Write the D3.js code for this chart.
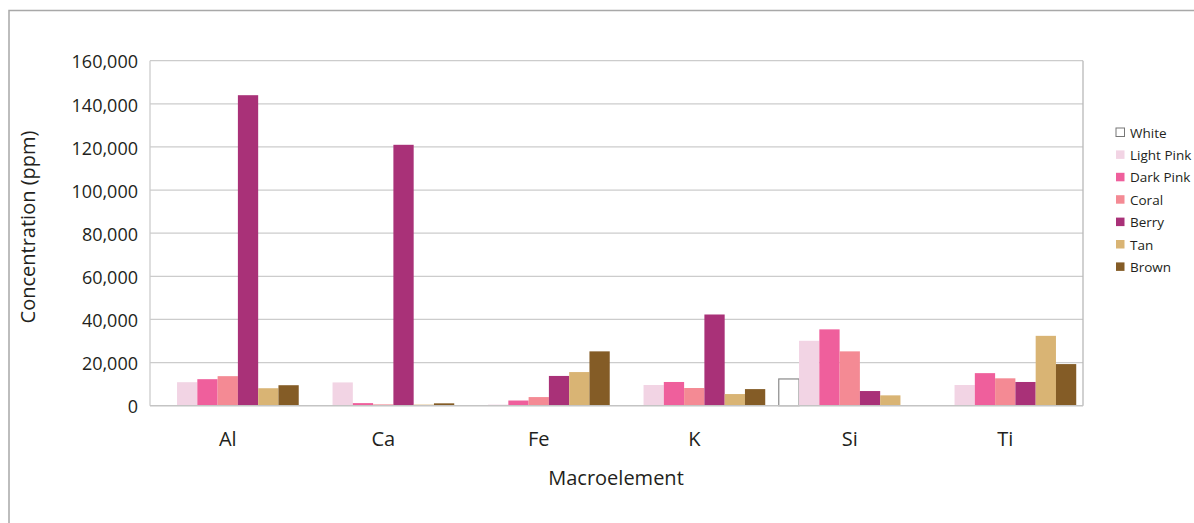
<!DOCTYPE html>
<html>
<head>
<meta charset="utf-8">
<script src="https://cdn.jsdelivr.net/npm/d3@7"></script>
<style>
  html, body { margin: 0; padding: 0; background: #fff; }
  svg { display: block; font-family: "Open Sans", "Noto Sans", sans-serif; }
</style>
</head>
<body>
<svg id="chart" width="1194" height="523"></svg>
<script>
const categories = ["Al", "Ca", "Fe", "K", "Si", "Ti"];
const seriesNames = ["White", "Light Pink", "Dark Pink", "Coral", "Berry", "Tan", "Brown"];
const seriesColors = ["#ffffff", "#f2d4e4", "#ef5f9c", "#f48a94", "#a93178", "#d9b474", "#845c26"];
const white     = [0, 0, 0, 0, 12400, 0];
const lightPink = [10900, 10800, 500, 9600, 30100, 9600];
const darkPink  = [12300, 1200, 2400, 11000, 35400, 15100];
const coral     = [13700, 600, 4000, 8200, 25200, 12700];
const berry     = [144000, 121000, 13800, 42300, 6800, 11000];
const tan       = [8100, 500, 15600, 5400, 4800, 32400];
const brown     = [9500, 1100, 25200, 7700, 0, 19300];
const seriesValues = [white, lightPink, darkPink, coral, berry, tan, brown];
const yTicks = [0, 20000, 40000, 60000, 80000, 100000, 120000, 140000, 160000];

const svg = d3.select("#chart");
const plot = { left: 150, right: 1083, top: 60.7, bottom: 405.7 };

// outer frame (left and top)
svg.append("path")
  .attr("d", `M9,523 L9,10.5 L1194,10.5`)
  .attr("fill", "none").attr("stroke", "#a8a8a8").attr("stroke-width", 1.5);

const x0 = d3.scaleBand().domain(categories).range([plot.left, plot.right])
  .paddingInner(0.087).paddingOuter(0.0435);
const x1 = d3.scaleBand().domain(seriesNames).range([0, x0.bandwidth()]).padding(0);
const y = d3.scaleLinear().domain([0, 160000]).range([plot.bottom, plot.top]);

// gridlines
svg.append("g").selectAll("line").data(yTicks.filter(d => d > 0)).join("line")
  .attr("x1", plot.left).attr("x2", plot.right)
  .attr("y1", d => y(d)).attr("y2", d => y(d))
  .attr("stroke", "#cccccc").attr("stroke-width", 1.3);

// plot borders left/right
svg.append("line").attr("x1", plot.left).attr("x2", plot.left)
  .attr("y1", plot.top).attr("y2", plot.bottom).attr("stroke", "#cccccc").attr("stroke-width", 1.3);
svg.append("line").attr("x1", plot.right).attr("x2", plot.right)
  .attr("y1", plot.top).attr("y2", plot.bottom).attr("stroke", "#b8b8b8").attr("stroke-width", 1.3);

// bars
const groups = svg.append("g").selectAll("g").data(categories).join("g")
  .attr("transform", d => `translate(${x0(d)},0)`);
groups.selectAll("rect")
  .data((c, ci) => seriesNames.map((s, si) => ({ s, si, v: seriesValues[si][ci] })).filter(d => d.v > 0))
  .join("rect")
  .attr("x", d => x1(d.s))
  .attr("width", x1.bandwidth())
  .attr("y", d => y(d.v))
  .attr("height", d => y(0) - y(d.v))
  .attr("fill", d => seriesColors[d.si])
  .attr("stroke", d => d.si === 0 ? "#8a8a8a" : "none")
  .attr("stroke-width", 1.2);

// baseline
svg.append("line").attr("x1", plot.left).attr("x2", plot.right)
  .attr("y1", plot.bottom).attr("y2", plot.bottom).attr("stroke", "#c4c4c4").attr("stroke-width", 1.5);

// y axis labels
const yAxis = d3.axisLeft(y).tickValues(yTicks).tickSize(0).tickPadding(12)
  .tickFormat(d3.format(","));
const ya = svg.append("g").attr("transform", `translate(${plot.left},0)`).call(yAxis);
ya.select(".domain").remove();
ya.selectAll("text").attr("font-size", 18).attr("fill", "#231f20")
  .attr("font-family", "'Open Sans', sans-serif").attr("dy", "0.4em");

// x axis labels
const xAxis = d3.axisBottom(x0).tickSize(0).tickPadding(26);
const xa = svg.append("g").attr("transform", `translate(0,${plot.bottom})`).call(xAxis);
xa.select(".domain").remove();
xa.selectAll("text").attr("font-size", 20).attr("fill", "#231f20")
  .attr("font-family", "'Open Sans', sans-serif");

// axis titles
svg.append("text").attr("x", 616).attr("y", 485).attr("text-anchor", "middle")
  .attr("font-size", 20).attr("fill", "#231f20").text("Macroelement");
svg.append("text").attr("transform", "translate(35,227) rotate(-90)").attr("text-anchor", "middle")
  .attr("font-size", 20).attr("fill", "#231f20").text("Concentration (ppm)");

// legend
const legend = svg.append("g").attr("transform", "translate(1116,128)");
const li = legend.selectAll("g").data(seriesNames).join("g")
  .attr("transform", (d, i) => `translate(0,${i * 22.4})`);
li.append("rect").attr("x", 0).attr("y", 0).attr("width", 8.5).attr("height", 8.5)
  .attr("fill", (d, i) => seriesColors[i])
  .attr("stroke", (d, i) => i === 0 ? "#777" : "none").attr("stroke-width", 1);
li.append("text").attr("x", 14).attr("y", 9.5).attr("font-size", 13.5).attr("fill", "#231f20")
  .text(d => d);
</script>
</body>
</html>
